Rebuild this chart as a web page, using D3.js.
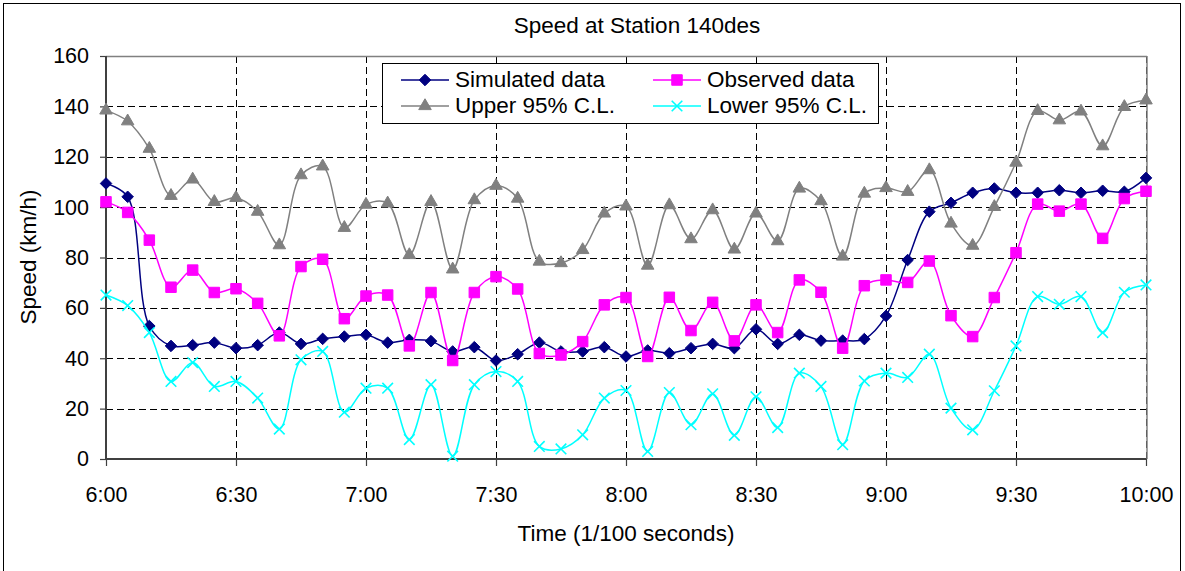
<!DOCTYPE html>
<html><head><meta charset="utf-8">
<script src="https://cdn.jsdelivr.net/npm/d3@7"></script>
<style>body{margin:0;background:#fff}svg{display:block;font-family:"Liberation Sans",Arial,sans-serif}</style>
</head><body><svg id="c" width="1185" height="571"></svg>
<script>
const title = "Speed at Station 140des";
const xTickLabels = ["6:00","6:30","7:00","7:30","8:00","8:30","9:00","9:30","10:00"];
const yTicks = [0,20,40,60,80,100,120,140,160];
// 49 observations, every 5 minutes from 6:00 (minute 0) to 10:00 (minute 240)
const minutes = d3.range(0, 245, 5);
const simulated = [109.4,104.1,52.8,44.9,45.2,46.2,44.0,45.2,50.2,45.7,47.7,48.6,49.3,46.2,47.3,46.8,42.7,44.4,39.1,41.6,46.2,42.7,42.7,44.4,40.7,43.1,42.0,44.0,45.7,44.0,51.5,45.7,49.3,47.0,47.0,47.6,56.8,79.0,98.2,101.7,105.7,107.4,105.7,105.7,106.7,105.7,106.5,106.1,111.6];
const observed = [102.1,97.9,86.9,68.2,75.0,66.1,67.6,61.8,48.9,76.4,79.3,55.7,64.7,65.1,44.9,66.1,39.1,66.1,72.4,67.5,41.9,41.3,46.6,61.2,64.1,40.7,64.2,51.0,62.2,46.9,61.2,50.2,71.1,66.2,44.0,68.8,71.1,70.1,78.6,56.9,48.6,64.1,81.9,101.2,98.4,101.2,87.6,103.4,106.3];
const upper = [138.4,134.1,123.2,104.5,111.0,102.1,103.7,98.2,84.9,112.7,116.2,91.8,101.0,101.5,81.0,102.1,75.3,102.8,108.5,103.4,78.4,77.8,83.0,97.5,100.3,76.8,100.8,87.3,98.8,83.2,97.5,86.5,107.4,102.4,80.4,105.4,107.6,106.1,114.7,93.5,84.7,100.1,117.7,138.2,134.5,138.0,124.2,139.8,142.4];
const lower = [65.1,60.9,50.2,30.8,38.3,28.8,30.8,24.2,11.9,39.4,42.7,18.6,28.1,28.1,7.7,29.5,1.1,29.5,34.7,30.8,5.0,4.0,9.6,24.2,27.2,3.0,26.4,13.6,25.9,9.4,24.7,12.5,34.1,28.8,5.7,31.0,34.1,32.4,41.6,20.2,11.6,27.1,44.9,64.5,61.4,64.5,50.2,66.2,69.1];
const seriesNames = ["Simulated data","Observed data","Upper 95% C.L.","Lower 95% C.L."];
const seriesColors = ["#000080","#FF00FF","#808080","#00FFFF"];
const seriesSymbols = ["diamond","square","triangle","cross"];

const svg = d3.select("#c");
const L = 106, R = 1146, T = 56, B = 459;
const x = d3.scaleLinear().domain([0,240]).range([L,R]);
const y = d3.scaleLinear().domain([0,160]).range([B,T]);
const FONT = "Liberation Sans, Arial, sans-serif";

// outer border
svg.append("rect").attr("x",3.5).attr("y",3.5).attr("width",1177).attr("height",600)
  .attr("fill","none").attr("stroke","#000").attr("stroke-width",1);

// title
svg.append("text").attr("x",637).attr("y",33).attr("text-anchor","middle")
  .attr("font-size",22.5).text(title);

// gridlines
const g = svg.append("g");
g.selectAll(".hg").data(yTicks.filter(v=>v>0 && v<160)).join("line")
  .attr("x1",L).attr("x2",R).attr("y1",d=>Math.round(y(d))+0.5).attr("y2",d=>Math.round(y(d))+0.5)
  .attr("stroke","#000").attr("stroke-dasharray","7,4").attr("stroke-width",1);
g.selectAll(".vg").data(d3.range(30,241,30)).join("line")
  .attr("y1",T).attr("y2",B).attr("x1",d=>Math.round(x(d))+0.5).attr("x2",d=>Math.round(x(d))+0.5)
  .attr("stroke","#000").attr("stroke-dasharray","7,4").attr("stroke-width",1);
// plot frame top/right
svg.append("line").attr("x1",L).attr("x2",R+1).attr("y1",T+0.5).attr("y2",T+0.5).attr("stroke","#808080").attr("stroke-width",1.5);
svg.append("line").attr("x1",R+1).attr("x2",R+1).attr("y1",T).attr("y2",B).attr("stroke","#808080").attr("stroke-width",1.5);

// axes
const yAxis = d3.axisLeft(y).tickValues(yTicks).tickSize(6).tickPadding(11).tickFormat(d3.format("d"));
const ya = svg.append("g").attr("transform",`translate(${L},0)`).call(yAxis);
const xAxis = d3.axisBottom(x).tickValues(d3.range(0,241,30)).tickSize(7).tickPadding(14)
  .tickFormat((d,i)=>xTickLabels[i]);
const xa = svg.append("g").attr("transform",`translate(0,${B})`).call(xAxis);
[ya,xa].forEach(a=>{
  a.select(".domain").attr("stroke","#404040").attr("stroke-width",2);
  a.selectAll(".tick line").attr("stroke","#404040").attr("stroke-width",1.2);
  a.selectAll("text").attr("font-size",21.5).attr("fill","#000").attr("font-family",FONT);
});
xa.selectAll(".tick text").attr("y",43).attr("dy",0);
ya.select(".domain").attr("d",`M0,${T}V${B}`);
xa.select(".domain").attr("d",`M${L},0H${R}`);

// axis titles
svg.append("text").attr("x",626).attr("y",541).attr("text-anchor","middle").attr("font-size",22.5).text("Time (1/100 seconds)");
svg.append("text").attr("transform","translate(36,257) rotate(-90)").attr("text-anchor","middle").attr("font-size",22.5).text("Speed (km/h)");

// series
const allSeries = [simulated, observed, upper, lower];
const line = d3.line().x((d,i)=>x(minutes[i])).y(d=>y(d)).curve(d3.curveCatmullRom.alpha(0.5));
const symPath = {
  diamond: d3.symbol().type(d3.symbolDiamond2).size(85)(),
  square: d3.symbol().type(d3.symbolSquare).size(110)(),
  triangle: d3.symbol().type(d3.symbolTriangle).size(68)(),
  cross: d3.symbol().type(d3.symbolX).size(75)()
};
function drawMarker(sel, sym, color){
  sel.append("path").attr("d", symPath[sym])
    .attr("fill", sym==="cross" ? "none" : color)
    .attr("stroke", color).attr("stroke-width", sym==="cross"?1.6:1);
}
const order = [0,2,3,1];
order.forEach(si=>{
  const data = allSeries[si];
  svg.append("path").datum(data).attr("d",line).attr("fill","none")
    .attr("stroke",seriesColors[si]).attr("stroke-width",1.5);
  const mg = svg.append("g");
  data.forEach((v,i)=>{
    const m = mg.append("g").attr("transform",`translate(${x(minutes[i])},${y(v)})`);
    drawMarker(m, seriesSymbols[si], seriesColors[si]);
  });
});

// legend
const lg = svg.append("g");
lg.append("rect").attr("x",382.5).attr("y",63.5).attr("width",496).attr("height",60)
  .attr("fill","#fff").attr("stroke","#000").attr("stroke-width",1);
const legPos = [[401,80],[653,80],[401,106],[653,106]];
legPos.forEach((p,si)=>{
  lg.append("line").attr("x1",p[0]).attr("x2",p[0]+48).attr("y1",p[1]).attr("y2",p[1])
    .attr("stroke",seriesColors[si]).attr("stroke-width",1.5);
  const m = lg.append("g").attr("transform",`translate(${p[0]+24},${p[1]})`);
  drawMarker(m, seriesSymbols[si], seriesColors[si]);
  lg.append("text").attr("x",p[0]+54).attr("y",p[1]+6.5).attr("font-size",22.5).text(seriesNames[si]);
});
</script></body></html>
